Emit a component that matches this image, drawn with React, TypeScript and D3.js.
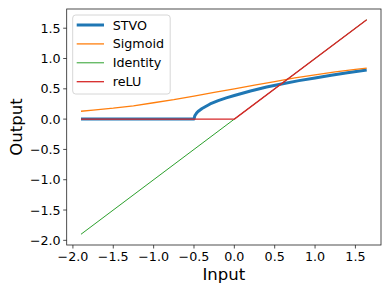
import React from "react";
import * as d3 from "d3";

// series
const stvoX = [-1.9, -0.5, -0.49, -0.47, -0.45, -0.4, -0.3, -0.2, -0.1, 0, 0.2, 0.4, 0.6, 0.8, 1.0, 1.2, 1.4, 1.64];
const stvoY = [0, 0, 0.055, 0.095, 0.125, 0.175, 0.25, 0.305, 0.35, 0.39, 0.465, 0.53, 0.585, 0.635, 0.68, 0.725, 0.765, 0.81];

const sigX = [-1.9, -1.75, -1.5, -1.25, -1.0, -0.75, -0.5, -0.25, 0, 0.25, 0.5, 0.75, 1.0, 1.25, 1.5, 1.64];
const sigY = [0.13, 0.15, 0.18, 0.22, 0.27, 0.32, 0.38, 0.44, 0.5, 0.56, 0.62, 0.68, 0.73, 0.78, 0.82, 0.84];

const idX = [-1.9, 1.64];
const idY = [-1.9, 1.64];

const reluX = [-1.9, 0, 1.64];
const reluY = [0, 0, 1.64];

const xTicks = [-2.0, -1.5, -1.0, -0.5, 0.0, 0.5, 1.0, 1.5];
const yTicks = [-2.0, -1.5, -1.0, -0.5, 0.0, 0.5, 1.0, 1.5];

const series = [
  { name: "STVO", xs: stvoX, ys: stvoY, color: "#1f77b4", width: 3 },
  { name: "Sigmoid", xs: sigX, ys: sigY, color: "#ff7f0e", width: 1.3 },
  { name: "Identity", xs: idX, ys: idY, color: "#2ca02c", width: 1 },
  { name: "reLU", xs: reluX, ys: reluY, color: "#d62728", width: 1.3 },
];

const W = 390;
const H = 293;
const left = 66.7, right = 381, top = 9, bottom = 245;
const font = "DejaVu Sans, sans-serif";

export default function App() {
  const x = d3.scaleLinear().domain([-2.077, 1.817]).range([left, right]);
  const y = d3.scaleLinear().domain([-2.077, 1.817]).range([bottom, top]);
  const fmt = d3.format(".1f");

  const line = d3
    .line<[number, number]>()
    .x((d) => x(d[0]))
    .y((d) => y(d[1]));

  return (
    <svg width={W} height={H} style={{ position: "absolute", left: 0, top: 0, background: "#fff" }} fontFamily={font}>
      <defs>
        <clipPath id="plot">
          <rect x={left} y={top} width={right - left} height={bottom - top} />
        </clipPath>
      </defs>
      <g clipPath="url(#plot)">
        {series.map((s) => (
          <path
            key={s.name}
            d={line(s.xs.map((v, i) => [v, s.ys[i]]) as [number, number][]) || ""}
            fill="none"
            stroke={s.color}
            strokeWidth={s.width}
            strokeLinejoin="round"
          />
        ))}
      </g>
      <rect x={left} y={top} width={right - left} height={bottom - top} fill="none" stroke="#222" strokeWidth={0.8} />

      {xTicks.map((t) => (
        <g key={"x" + t} transform={`translate(${x(t)},${bottom})`}>
          <line y2={3.5} stroke="#222" strokeWidth={0.8} />
          <text y={16} textAnchor="middle" fontSize={12.7} fill="#000">
            {fmt(t)}
          </text>
        </g>
      ))}
      {yTicks.map((t) => (
        <g key={"y" + t} transform={`translate(${left},${y(t)})`}>
          <line x2={-3.5} stroke="#222" strokeWidth={0.8} />
          <text x={-6} dy="0.36em" textAnchor="end" fontSize={12.7} fill="#000">
            {fmt(t)}
          </text>
        </g>
      ))}

      <text x={(left + right) / 2} y={280} textAnchor="middle" fontSize={16.5} fill="#000">
        Input
      </text>
      <text
        transform={`translate(22,${(top + bottom) / 2}) rotate(-90)`}
        textAnchor="middle"
        fontSize={16.5}
        fill="#000"
      >
        Output
      </text>

      <g transform="translate(72.7,15)">
        <rect width={97.5} height={79} rx={3} fill="#fff" fillOpacity={0.8} stroke="#ccc" strokeWidth={0.8} />
        {series.map((s, i) => (
          <g key={s.name} transform={`translate(0,${10 + i * 18.9})`}>
            <line x1={4} x2={31.3} stroke={s.color} strokeWidth={s.width} />
            <text x={40} dy="0.36em" fontSize={12.7} fill="#000">
              {s.name}
            </text>
          </g>
        ))}
      </g>
    </svg>
  );
}
